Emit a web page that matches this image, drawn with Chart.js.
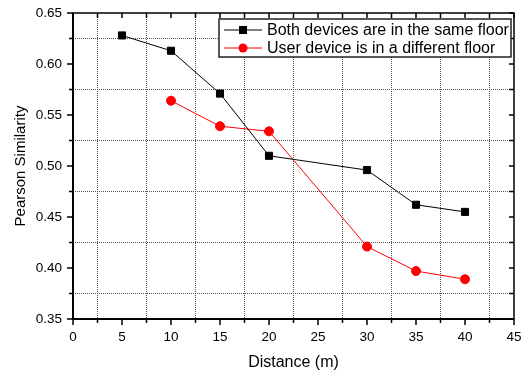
<!DOCTYPE html>
<html>
<head>
<meta charset="utf-8">
<script src="https://cdn.jsdelivr.net/npm/chart.js@4"></script>
<style>
  html, body { margin: 0; padding: 0; background: #fff; }
  #wrap { width: 527px; height: 372px; }
</style>
</head>
<body>
<div id="wrap"><canvas id="grafico" width="527" height="372"></canvas></div>
<script>
// datos
const seriesNames = ['Both devices are in the same floor', 'User device is in a different floor'];
const sameDist = [5, 10, 15, 20, 30, 35, 40];
const sameFloor = [0.628, 0.613, 0.571, 0.510, 0.496, 0.462, 0.455];
const diffDist = [10, 15, 20, 30, 35, 40];
const diffFloor = [0.564, 0.539, 0.534, 0.421, 0.397, 0.389];
const xRange = [0, 45];
const yRange = [0.35, 0.65];
const xStep = 2.5;
const yStep = 0.025;

const FONT = '"Liberation Sans", Arial, sans-serif';

function isMajorX(v) { return Math.round(v * 10) % 50 === 0; }
function isMajorY(v) { return Math.round(v * 1000) % 50 === 0; }

// ticks, marco y leyenda
const marco = {
    id: 'marco',
    afterDraw(chart) {
        const c = chart.ctx;
        const a = chart.chartArea;
        const xs = chart.scales.x, ys = chart.scales.y;
        c.save();
        c.strokeStyle = '#000';
        c.lineWidth = 1.5;
        c.strokeRect(a.left, a.top, a.right - a.left, a.bottom - a.top);
        c.lineWidth = 2;
        c.beginPath();
        c.moveTo(a.left, a.top); c.lineTo(a.left, a.bottom); c.lineTo(a.right, a.bottom);
        c.stroke();
        c.lineWidth = 1.5;
        c.beginPath();
        xs.ticks.forEach(t => {
            const px = xs.getPixelForValue(t.value);
            const len = isMajorX(t.value) ? 6 : 4;
            c.moveTo(px, a.bottom); c.lineTo(px, a.bottom + len);
            c.moveTo(px, a.top); c.lineTo(px, a.top + 5);
        });
        ys.ticks.forEach(t => {
            const py = ys.getPixelForValue(t.value);
            const len = isMajorY(t.value) ? 6 : 4;
            c.moveTo(a.left, py); c.lineTo(a.left - len, py);
            c.moveTo(a.right, py); c.lineTo(a.right - 5, py);
        });
        c.stroke();

        // leyenda
        const bx = a.right - 295, by = a.top + 6, bw = 292, bh = 38;
        c.fillStyle = '#fff';
        c.fillRect(bx, by, bw, bh);
        c.lineWidth = 1.5;
        c.strokeStyle = '#222';
        c.strokeRect(bx, by, bw, bh);
        c.font = '16px ' + FONT;
        c.textBaseline = 'middle';
        chart.data.datasets.forEach((ds, i) => {
            const cy = by + 11 + i * 18;
            c.strokeStyle = ds.borderColor;
            c.lineWidth = 1;
            c.beginPath();
            c.moveTo(bx + 5, cy); c.lineTo(bx + 43, cy);
            c.stroke();
            c.fillStyle = ds.pointBackgroundColor;
            if (ds.pointStyle === 'rect') {
                c.fillRect(bx + 24 - 4, cy - 4, 8, 8);
            } else {
                c.beginPath();
                c.arc(bx + 24, cy, 4.5, 0, Math.PI * 2);
                c.fill();
            }
            c.fillStyle = '#000';
            c.fillText(ds.label, bx + 48, cy + 1);
        });
        c.restore();
    }
};

const ctx = document.getElementById('grafico').getContext('2d');
new Chart(ctx, {
    type: 'line',
    data: {
        datasets: [{
            label: seriesNames[0],
            data: sameDist.map((d, i) => ({ x: d, y: sameFloor[i] })),
            borderColor: '#000',
            backgroundColor: '#000',
            pointBackgroundColor: '#000',
            pointBorderColor: '#000',
            pointStyle: 'rect',
            pointRadius: 5,
            borderWidth: 1,
            tension: 0
        }, {
            label: seriesNames[1],
            data: diffDist.map((d, i) => ({ x: d, y: diffFloor[i] })),
            borderColor: '#ff0000',
            backgroundColor: '#ff0000',
            pointBackgroundColor: '#ff0000',
            pointBorderColor: '#ff0000',
            pointStyle: 'circle',
            pointRadius: 4.5,
            borderWidth: 1,
            tension: 0
        }]
    },
    options: {
        responsive: false,
        animation: false,
        layout: { padding: { top: 13, right: 13, left: 0, bottom: 0 } },
        plugins: {
            legend: { display: false },
            tooltip: { enabled: false }
        },
        scales: {
            x: {
                type: 'linear',
                min: xRange[0],
                max: xRange[1],
                afterFit(scale) {
                    scale.height = 53;
                    scale.paddingLeft = 0;
                    scale.paddingRight = 0;
                },
                ticks: {
                    stepSize: xStep,
                    autoSkip: false,
                    maxRotation: 0,
                    padding: 10,
                    color: '#000',
                    font: { family: FONT, size: 13.5 },
                    callback: v => isMajorX(v) ? String(Math.round(v)) : ''
                },
                grid: {
                    drawTicks: false,
                    lineWidth: 1,
                    color: c => (c.tick && !isMajorX(c.tick.value)) ? '#555' : 'rgba(0,0,0,0)'
                },
                border: { display: false, dash: [1, 1] },
                title: {
                    display: true,
                    text: 'Distance (m)',
                    color: '#000',
                    font: { family: FONT, size: 16 },
                    padding: { top: 2, bottom: 0 }
                }
            },
            y: {
                type: 'linear',
                min: yRange[0],
                max: yRange[1],
                afterFit(scale) {
                    scale.width = 73;
                    scale.paddingTop = 0;
                    scale.paddingBottom = 0;
                },
                ticks: {
                    stepSize: yStep,
                    autoSkip: false,
                    padding: 11,
                    color: '#000',
                    font: { family: FONT, size: 13.5 },
                    callback: v => isMajorY(v) ? v.toFixed(2) : ''
                },
                grid: {
                    drawTicks: false,
                    lineWidth: 1,
                    color: c => (c.tick && !isMajorY(c.tick.value)) ? '#555' : 'rgba(0,0,0,0)'
                },
                border: { display: false, dash: [1, 1] },
                title: {
                    display: true,
                    text: 'Pearson Similarity',
                    color: '#000',
                    font: { family: FONT, size: 15 },
                    padding: { top: 12, bottom: 4 }
                }
            }
        }
    },
    plugins: [marco]
});
</script>
</body>
</html>
